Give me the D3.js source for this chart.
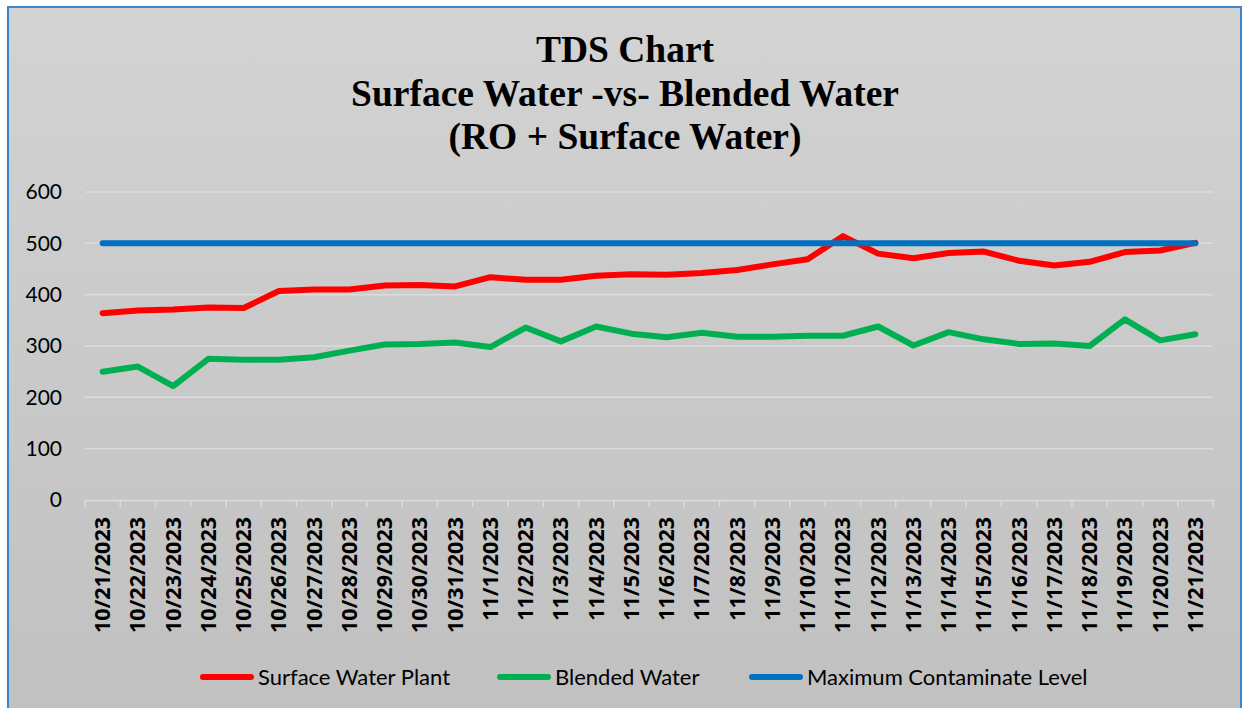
<!DOCTYPE html>
<html>
<head>
<meta charset="utf-8">
<script src="https://cdn.jsdelivr.net/npm/d3@7"></script>
<style>
  html, body { margin: 0; padding: 0; background: #fff; }
  svg { display: block; }
</style>
</head>
<body>
<div id="chart"></div>
<script>
// Sample dates (x categories)
const dates = [
  '10/21/2023', '10/22/2023', '10/23/2023', '10/24/2023', '10/25/2023', '10/26/2023',
  '10/27/2023', '10/28/2023', '10/29/2023', '10/30/2023', '10/31/2023',
  '11/1/2023', '11/2/2023', '11/3/2023', '11/4/2023', '11/5/2023', '11/6/2023',
  '11/7/2023', '11/8/2023', '11/9/2023', '11/10/2023', '11/11/2023', '11/12/2023',
  '11/13/2023', '11/14/2023', '11/15/2023', '11/16/2023', '11/17/2023', '11/18/2023',
  '11/19/2023', '11/20/2023', '11/21/2023'
];

// TDS readings
const surfaceWater = [
  364, 369, 371, 375, 374, 407, 410, 410, 418, 419, 416,
  434, 429, 429, 437, 440, 439, 442, 448, 459, 469, 514,
  480, 471, 481, 484, 466, 457, 464, 483, 486, 501
];
const blendedWater = [
  250, 260, 222, 275, 273, 273, 278, 291, 303, 304, 307,
  298, 336, 309, 338, 324, 317, 326, 318, 318, 320, 320,
  338, 301, 327, 313, 304, 305, 300, 352, 311, 323
];
const maxLevel = dates.map(() => 500);

const yTicks = [0, 100, 200, 300, 400, 500, 600];
const titleLines = ['TDS Chart', 'Surface Water -vs- Blended Water', '(RO + Surface Water)'];

const series = [
  { name: 'Surface Water Plant', values: surfaceWater, color: '#ff0000' },
  { name: 'Blended Water', values: blendedWater, color: '#00b050' },
  { name: 'Maximum Contaminate Level', values: maxLevel, color: '#0070c0' }
];

const W = 1244, H = 708;
const plot = { left: 85, right: 1213, top: 192, bottom: 500 };

const svg = d3.select('#chart').append('svg')
  .attr('width', W).attr('height', H);

const defs = svg.append('defs');
const grad = defs.append('linearGradient').attr('id', 'bg')
  .attr('x1', 0).attr('y1', 0).attr('x2', 0).attr('y2', 1);
grad.append('stop').attr('offset', '0%').attr('stop-color', '#d3d3d3');
grad.append('stop').attr('offset', '100%').attr('stop-color', '#c0c0c0');

// chart frame
svg.append('rect')
  .attr('x', 8).attr('y', 7).attr('width', 1233).attr('height', 720)
  .attr('fill', 'url(#bg)')
  .attr('stroke', '#3d85c6').attr('stroke-width', 2);

// title
svg.append('g').selectAll('text').data(titleLines).join('text')
  .attr('x', 625)
  .attr('y', (d, i) => 62 + i * 43.5)
  .attr('text-anchor', 'middle')
  .attr('font-family', '"Liberation Serif", "Times New Roman", serif')
  .attr('font-weight', 'bold')
  .attr('font-size', 37.5)
  .attr('fill', '#000')
  .text(d => d);

const x = d3.scaleBand().domain(dates).range([plot.left, plot.right]);
const y = d3.scaleLinear().domain([0, 600]).range([plot.bottom, plot.top]);

// gridlines
svg.append('g').selectAll('line').data(yTicks.filter(d => d > 0)).join('line')
  .attr('x1', plot.left).attr('x2', plot.right)
  .attr('y1', d => y(d)).attr('y2', d => y(d))
  .attr('stroke', '#dcdcdc').attr('stroke-width', 1.5);

// y axis labels
const yAxis = svg.append('g')
  .attr('transform', `translate(${plot.left},0)`)
  .call(d3.axisLeft(y).tickValues(yTicks).tickSize(0).tickPadding(23));
yAxis.select('.domain').remove();
yAxis.selectAll('text')
  .attr('font-family', 'Lato, "Open Sans", sans-serif')
  .attr('font-size', 21)
  .attr('fill', '#000');

// x axis
const xAxis = svg.append('g')
  .attr('transform', `translate(0,${plot.bottom})`)
  .call(d3.axisBottom(x).tickSize(0).tickPadding(0));
xAxis.select('.domain')
  .attr('stroke', '#dcdcdc').attr('stroke-width', 1.5);
xAxis.selectAll('.tick line').remove();
// tick marks at band boundaries
xAxis.append('g').selectAll('line')
  .data(dates.map(d => x(d)).concat([plot.right]))
  .join('line')
  .attr('x1', d => d).attr('x2', d => d)
  .attr('y1', 0).attr('y2', 7)
  .attr('stroke', '#dcdcdc').attr('stroke-width', 1.5);
xAxis.selectAll('.tick text')
  .attr('font-family', '"Open Sans", "DejaVu Sans", sans-serif')
  .attr('font-weight', 'bold')
  .attr('font-size', 21.5)
  .attr('fill', '#000')
  .attr('text-anchor', 'end')
  .attr('dy', '0.35em')
  .attr('transform', 'translate(0,17) rotate(-90)');

// lines
const line = d3.line()
  .x((d, i) => x(dates[i]) + x.bandwidth() / 2)
  .y(d => y(d));

svg.append('g').selectAll('path').data(series).join('path')
  .attr('d', d => line(d.values))
  .attr('fill', 'none')
  .attr('stroke', d => d.color)
  .attr('stroke-width', 6)
  .attr('stroke-linejoin', 'round')
  .attr('stroke-linecap', 'round');

// legend
const legendX = [200, 497, 749];
const legend = svg.append('g').selectAll('g').data(series).join('g')
  .attr('transform', (d, i) => `translate(${legendX[i]},677)`);
legend.append('line')
  .attr('x1', 3).attr('x2', 51)
  .attr('stroke', d => d.color)
  .attr('stroke-width', 6)
  .attr('stroke-linecap', 'round');
legend.append('text')
  .attr('x', 58)
  .attr('dy', '0.35em')
  .attr('font-family', 'Lato, "Open Sans", sans-serif')
  .attr('font-size', 22)
  .attr('fill', '#000')
  .text(d => d.name);
</script>
</body>
</html>
